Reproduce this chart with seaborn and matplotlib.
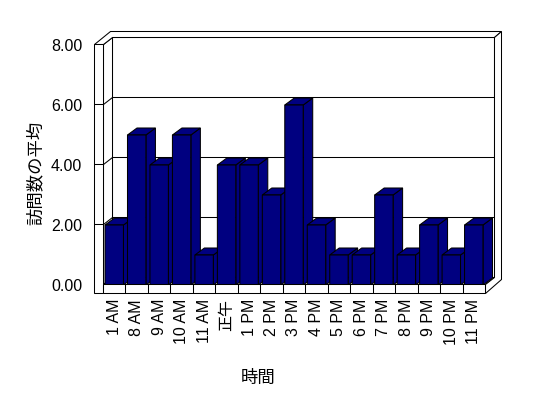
import matplotlib
matplotlib.use('Agg')
import matplotlib.pyplot as plt
import seaborn as sns
from matplotlib.patches import Polygon
from matplotlib.lines import Line2D
from matplotlib.transforms import IdentityTransform

# data
hours = ['1 AM', '8 AM', '9 AM', '10 AM', '11 AM', '正午', '1 PM', '2 PM', '3 PM',
         '4 PM', '5 PM', '6 PM', '7 PM', '8 PM', '9 PM', '10 PM', '11 PM']
avg_visits = [2, 5, 4, 5, 1, 4, 4, 3, 6, 2, 1, 1, 3, 1, 2, 1, 2]
y_ticks = [0, 2, 4, 6, 8]

sns.set_style('white')
plt.rcParams['font.family'] = ['Liberation Sans', 'Noto Sans CJK JP']
plt.rcParams['text.color'] = 'black'
plt.rcParams['axes.labelcolor'] = 'black'
plt.rcParams['xtick.color'] = 'black'
plt.rcParams['ytick.color'] = 'black'

BAR = '#000080'
LW = 0.75  # ~1 px at 100 dpi

fig = plt.figure(figsize=(5.48, 3.98), dpi=100)
ax = fig.add_axes([103 / 548, 113 / 398, 382 / 548, 240 / 398])
ax.set_facecolor('none')

sns.barplot(x=hours, y=avg_visits, color=BAR, saturation=1, width=0.82,
            edgecolor='black', linewidth=LW, ax=ax)
ax.set_xlim(-0.5, 16.5)
ax.set_ylim(0, 8)
for s in ax.spines.values():
    s.set_visible(False)

ax.set_yticks(y_ticks)
ax.set_yticklabels([f'{v:.2f}' for v in y_ticks])
ax.tick_params(axis='y', length=0, pad=15, labelsize=11.5, labelcolor='black')
ax.tick_params(axis='x', length=0, pad=10, labelsize=11.5, rotation=90, labelcolor='black')

ax.set_ylabel('訪問数の平均', fontsize=12.5, family=['Noto Sans CJK JP'])
ax.yaxis.set_label_coords(-0.152, 0.467)
ax.set_xlabel('時間', fontsize=12.5, family=['Noto Sans CJK JP'])
ax.xaxis.set_label_coords(0.405, -0.35)

# --- fake 3d box, built in display pixels ---
D = (9.5, 7)       # depth of the plot box
DO = (16, 13.5)    # outer depth incl. back wall thickness
WALL = 9
FLOOR = 9


def P(x, y, d=(0, 0), ox=0, oy=0, snap=True):
    px, py = ax.transData.transform((x, y))
    px, py = px + d[0] + ox, py + d[1] + oy
    if snap:
        # pixel centres -> crisp 1px edges
        return (round(px) + 0.5, round(py) + 0.5)
    return (px, py)


def face(pts, fc='white', z=1):
    ax.add_patch(Polygon(pts, closed=True, transform=IdentityTransform(),
                         facecolor=fc, edgecolor='black', lw=LW, zorder=z,
                         clip_on=False, snap=False))


def line(pts, z=1.5):
    xs, ys = zip(*pts)
    ax.add_line(Line2D(xs, ys, transform=IdentityTransform(), color='black',
                       lw=LW, zorder=z, clip_on=False, snap=False))


x0, x1 = -0.5, 16.5
# back wall, left inner face, floor top
face([P(x0, 0, D), P(x1, 0, D), P(x1, 8, D), P(x0, 8, D)], z=1)
face([P(x0, 8), P(x0, 8, D), P(x0, 0, D), P(x0, 0)], z=1)
face([P(x0, 0), P(x1, 0), P(x1, 0, D), P(x0, 0, D)], z=1)
# top and right outer faces
face([P(x0, 8, ox=-WALL), P(x0, 8), P(x0, 8, D), P(x1, 8, D),
      P(x1, 8, DO), P(x0, 8, DO, ox=-WALL)], z=1)
face([P(x1, 8, D), P(x1, 8, DO), P(x1, 0, DO, oy=-FLOOR), P(x1, 0, oy=-FLOOR),
      P(x1, 0), P(x1, 0, D)], z=1)

for v in y_ticks[1:-1]:
    line([P(x0, v), P(x0, v, D), P(x1, v, D)])

# bars from seaborn: add side + top, keep the front face on top
for i, p in enumerate(ax.patches[:len(avg_visits)]):
    x, w, h = p.get_x(), p.get_width(), p.get_height()
    z = 3 + i * 0.1
    face([P(x + w, 0, snap=False), P(x + w, h, snap=False),
          P(x + w, h, D, snap=False), P(x + w, 0, D, snap=False)], fc=BAR, z=z)
    face([P(x, h, snap=False), P(x + w, h, snap=False),
          P(x + w, h, D, snap=False), P(x, h, D, snap=False)], fc=BAR, z=z)
    p.set_snap(False)
    p.set_zorder(z + 0.05)

# front plates: left wall and floor
face([P(x0, 0, ox=-WALL, oy=-FLOOR), P(x0, 0, oy=-FLOOR), P(x0, 8), P(x0, 8, ox=-WALL)], z=6)
face([P(x0, 0, oy=-FLOOR), P(x1, 0, oy=-FLOOR), P(x1, 0), P(x0, 0)], z=6)
for k in range(1, len(hours)):
    line([P(k - 0.5, 0), P(k - 0.5, 0, oy=-FLOOR)], z=6.5)
for v in y_ticks[1:-1]:
    line([P(x0, v, ox=-WALL), P(x0, v)], z=6.5)

fig.savefig('out.png', dpi=100)
